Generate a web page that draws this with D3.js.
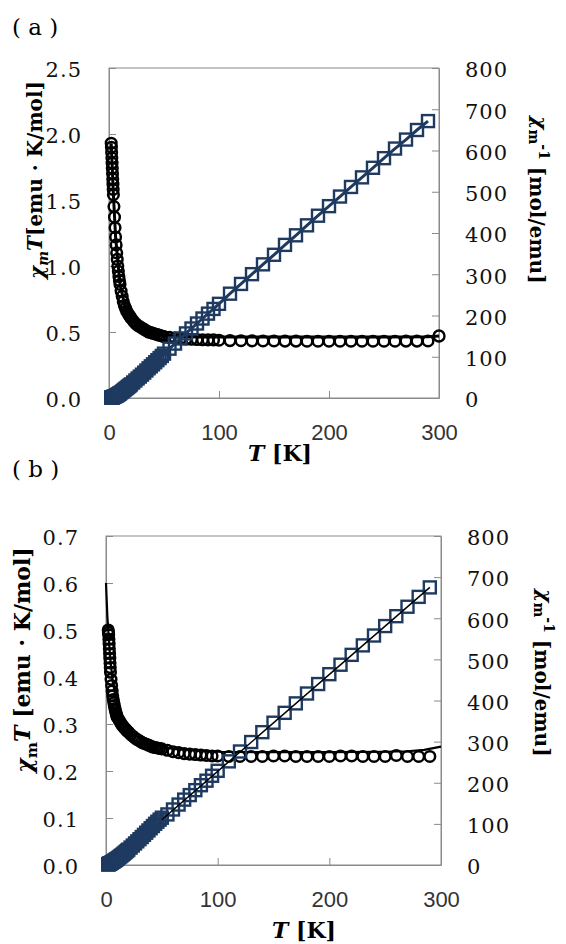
<!DOCTYPE html>
<html>
<head>
<meta charset="utf-8">
<script src="https://cdn.jsdelivr.net/npm/d3@7"></script>
<style>
  body { margin: 0; background: #fff; }
  svg { display: block; }
</style>
</head>
<body>
<div id="chart"></div>
<script>
////////////////////////////////////////////////////////////////
// Data

// temperature grid shared by circles and squares, K
let tempGrid = [2, 2.2, 2.4, 2.6, 2.8, 3, 3.2, 3.4, 3.6, 3.8,
  4, 4.5, 5, 5.5, 6, 6.5, 7, 7.5, 8, 8.5, 9, 9.5, 10,
  11, 12, 13, 14, 15, 16, 17, 18, 19, 20,
  22, 24, 26, 28, 30, 32, 34, 36, 38, 40, 42, 44, 46, 48, 50,
  55, 60, 65, 70, 75, 80, 85, 90, 95, 100,
  110, 120, 130, 140, 150, 160, 170, 180, 190, 200, 210, 220, 230, 240, 250, 260, 270, 280, 290]

// panel (a)
let chiTA = [1.93, 1.90, 1.86, 1.82, 1.78, 1.74, 1.70, 1.66, 1.62, 1.58,
  1.54, 1.45, 1.37, 1.29, 1.22, 1.16, 1.10, 1.05, 1.00, 0.96, 0.92, 0.89, 0.86,
  0.81, 0.77, 0.73, 0.70, 0.68, 0.66, 0.645, 0.63, 0.62, 0.605,
  0.585, 0.565, 0.55, 0.54, 0.53, 0.52, 0.51, 0.50, 0.495, 0.49, 0.485, 0.48, 0.475, 0.47, 0.465,
  0.46, 0.455, 0.45, 0.447, 0.445, 0.443, 0.441, 0.44, 0.44, 0.438,
  0.435, 0.434, 0.433, 0.432, 0.432, 0.431, 0.431, 0.43, 0.43, 0.43, 0.43, 0.43, 0.43, 0.43, 0.43, 0.43, 0.431, 0.431, 0.432]
let invA = [1.04, 1.16, 1.29, 1.43, 1.57, 1.72, 1.88, 2.05, 2.22, 2.41,
  2.6, 3.1, 3.65, 4.26, 4.92, 5.6, 6.36, 7.14, 8, 8.85, 9.78, 10.7, 11.6,
  13.6, 15.6, 17.8, 20, 22.1, 24.2, 26.4, 28.6, 30.6, 33.1,
  37.6, 42.5, 47.3, 51.9, 56.6, 61.5, 66.7, 72, 76.8, 81.6, 86.6, 91.7, 96.8, 102, 107.5,
  119.6, 131.9, 144.4, 156.6, 168.5, 180.6, 192.7, 204.5, 215.9, 228.3,
  252.9, 276.5, 300.2, 324, 347.2, 371.2, 394.4, 418.6, 441.9, 465.1, 488.4, 511.6, 534.9, 558.1, 581.4, 604.7, 626.5, 649.7, 671.3]
let fitTempA = [2, 3, 4, 6, 10, 15, 20, 30, 40, 50, 60, 80, 100, 150, 200, 250, 290, 300]
let fitChiTA = [1.93, 1.74, 1.54, 1.22, 0.86, 0.68, 0.6, 0.53, 0.49, 0.475, 0.466, 0.463, 0.462, 0.462, 0.462, 0.462, 0.464, 0.47]

// panel (b)
let chiTB = [0.50, 0.495, 0.49, 0.48, 0.47, 0.46, 0.45, 0.44, 0.43, 0.42,
  0.41, 0.395, 0.382, 0.37, 0.36, 0.352, 0.345, 0.339, 0.333, 0.328, 0.323, 0.319, 0.315,
  0.311, 0.307, 0.303, 0.299, 0.296, 0.293, 0.29, 0.288, 0.285, 0.283,
  0.278, 0.274, 0.27, 0.267, 0.264, 0.261, 0.259, 0.257, 0.255, 0.253, 0.251, 0.25, 0.249, 0.248, 0.247,
  0.244, 0.241, 0.239, 0.237, 0.236, 0.235, 0.234, 0.233, 0.232, 0.232,
  0.231, 0.231, 0.231, 0.231, 0.232, 0.232, 0.231, 0.231, 0.231, 0.231, 0.232, 0.232, 0.231, 0.231, 0.231, 0.233, 0.231, 0.231, 0.231]
let invB = [1.5, 1.8, 2.1, 2.4, 2.7, 3, 3.3, 3.6, 3.9, 4.2,
  4.5, 5.2, 6, 6.8, 7.6, 8.5, 9.4, 10.3, 11.2, 12.2, 13.2, 14.2, 15.2,
  17.2, 19.3, 21.4, 23.6, 25.8, 28, 30.3, 32.6, 35, 37.4,
  42.3, 47.3, 52.4, 57.5, 62.7, 68, 73.3, 78.6, 84, 89.4, 94.8, 100.2, 105.2, 110.2, 115,
  123, 135, 147, 159, 170, 182, 194, 205, 217, 229,
  252, 276, 299, 323, 346, 370, 393, 417, 440, 464, 487, 511, 534, 558, 581, 605, 628, 652, 675]
let fitTempB = [0, 1.2, 2, 3, 4, 6, 10, 20, 40, 60, 100, 150, 200, 250, 270, 285, 300]
let fitChiTB = [0.6, 0.53, 0.5, 0.465, 0.435, 0.39, 0.34, 0.29, 0.257, 0.247, 0.241, 0.24, 0.24, 0.241, 0.242, 0.245, 0.252]
let invFitTempB = [50, 290]
let invFitB = [110, 675]

// axes
let xTicks = [0, 100, 200, 300]
let leftTicksA = [0, 0.5, 1.0, 1.5, 2.0, 2.5]
let leftTicksB = [0, 0.1, 0.2, 0.3, 0.4, 0.5, 0.6, 0.7]
let rightTicks = [0, 100, 200, 300, 400, 500, 600, 700, 800]


////////////////////////////////////////////////////////////////
// Setup

let svg = d3.select("#chart").append("svg")
  .attr("width", 566)
  .attr("height", 944)

let navy = "#1f3a60"
let frameGray = "#8a8a8a"
let serif = "'DejaVu Serif', serif"

let zip = (xs, ys) => xs.map((x, i) => [x, ys[i]])

// adds a text with tspans, subscripts / superscripts via dy
function richText(sel, parts) {
  let shift = 0
  parts.forEach(p => {
    let want = p.sub ? 0.3 : (p.sup ? -0.45 : 0)
    let ts = sel.append("tspan").text(p.t)
    if (p.sub || p.sup) ts.attr("font-size", "0.7em")
    if (p.italic) ts.attr("font-style", "italic")
    let dyPx = want - shift
    if (dyPx !== 0) ts.attr("dy", dyPx + "em")
    shift = want
  })
}

function drawPanel(p) {
  let x = d3.scaleLinear().domain([0, 300]).range(p.xRange)
  let yL = d3.scaleLinear().domain([0, p.leftMax]).range(p.yRange)
  let yR = d3.scaleLinear().domain([0, 800]).range(p.yRange)

  let g = svg.append("g")

  // frame
  g.append("rect")
    .attr("x", p.xRange[0]).attr("y", p.yRange[1])
    .attr("width", p.xRange[1] - p.xRange[0])
    .attr("height", p.yRange[0] - p.yRange[1])
    .attr("fill", "none").attr("stroke", frameGray)

  // axes, ticks pointing inside
  let xAxis = d3.axisBottom(x).tickValues(xTicks).tickFormat(d3.format("d"))
    .tickSizeInner(-7).tickSizeOuter(0).tickPadding(26)
  let leftAxis = d3.axisLeft(yL).tickValues(p.leftTicks).tickFormat(d3.format(".1f"))
    .tickSizeInner(-7).tickSizeOuter(0).tickPadding(27)
  let rightAxis = d3.axisRight(yR).tickValues(rightTicks).tickFormat(d3.format("d"))
    .tickSizeInner(-7).tickSizeOuter(0).tickPadding(26)

  let gx = g.append("g").attr("transform", `translate(0,${p.yRange[0]})`).call(xAxis)
  gx.selectAll("text").attr("font-family", "'Liberation Sans', Arial, sans-serif")
    .attr("font-size", 22).attr("fill", "#333")

  let gl = g.append("g").attr("transform", `translate(${p.xRange[0]},0)`).call(leftAxis)
  let gr = g.append("g").attr("transform", `translate(${p.xRange[1]},0)`).call(rightAxis)
  ;[gl, gr].forEach(a => a.selectAll("text")
    .attr("font-family", serif).attr("font-size", 21)
    .attr("letter-spacing", 1).attr("dy", "0.42em").attr("fill", "#111"))
  ;[gx, gl, gr].forEach(a => {
    a.select(".domain").attr("stroke", frameGray)
    a.selectAll(".tick line").attr("stroke", frameGray)
  })

  // chi_m T circles (left axis)
  g.append("g").selectAll("circle")
    .data(zip(p.temp, p.chiT))
    .enter().append("circle")
    .attr("cx", d => x(d[0])).attr("cy", d => yL(d[1]))
    .attr("r", 5.3)
    .attr("fill", "none").attr("stroke", "#000").attr("stroke-width", 2.5)

  // chi_m T fit line
  let lineL = d3.line().x(d => x(d[0])).y(d => yL(d[1]))
  g.append("path")
    .attr("d", lineL(zip(p.fitTemp, p.fitChiT)))
    .attr("fill", "none").attr("stroke", "#000").attr("stroke-width", p.fitWidth)

  if (p.endMarker) {
    let last = p.fitTemp.length - 1
    g.append("circle")
      .attr("cx", x(p.fitTemp[last])).attr("cy", yL(p.fitChiT[last]))
      .attr("r", 5.5).attr("fill", "none").attr("stroke", "#000").attr("stroke-width", 2.4)
  }

  // chi_m^-1 squares (right axis)
  g.append("g").selectAll("rect")
    .data(zip(p.temp, p.inv))
    .enter().append("rect")
    .attr("x", d => x(d[0]) - 6).attr("y", d => yR(d[1]) - 6)
    .attr("width", 12).attr("height", 12)
    .attr("fill", "none").attr("stroke", navy).attr("stroke-width", 2.4)

  let lineR = d3.line().x(d => x(d[0])).y(d => yR(d[1]))
  if (p.invFitTemp) {
    g.append("path")
      .attr("d", lineR(zip(p.invFitTemp, p.invFit)))
      .attr("fill", "none").attr("stroke", "#000").attr("stroke-width", 1.5)
  } else {
    g.append("path")
      .attr("d", lineR(zip(p.temp, p.inv)))
      .attr("fill", "none").attr("stroke", navy).attr("stroke-width", 3)
  }

  // panel label
  svg.append("text")
    .attr("x", 12).attr("y", p.panelY)
    .attr("font-family", serif).attr("font-size", 23)
    .text(p.panel)

  // x axis title
  let tx = svg.append("text")
    .attr("x", p.xTitle[0]).attr("y", p.xTitle[1])
    .attr("text-anchor", "middle")
    .attr("font-family", serif).attr("font-size", 22).attr("font-weight", "bold")
  richText(tx, [{ t: "T", italic: true }, { t: " [K]" }])

  // left title
  let lt = svg.append("text")
    .attr("transform", `translate(${p.leftTitle[0]},${p.leftTitle[1]}) rotate(-90)`)
    .attr("text-anchor", "middle")
    .attr("font-family", serif).attr("font-size", p.leftTitle[2]).attr("font-weight", "bold")
  richText(lt, p.leftParts)

  // right title
  let rt = svg.append("text")
    .attr("transform", `translate(${p.rightTitle[0]},${p.rightTitle[1]}) rotate(90)`)
    .attr("text-anchor", "middle")
    .attr("font-family", serif).attr("font-size", p.rightTitle[2]).attr("font-weight", "bold")
  richText(rt, [{ t: "χ", italic: true }, { t: "m", sub: true }, { t: "-1", sup: true }, { t: " [mol/emu]" }])
}


////////////////////////////////////////////////////////////////
// Draw both panels

drawPanel({
  panel: "( a )", panelY: 35,
  xRange: [109, 439], yRange: [398, 68],
  leftMax: 2.5, leftTicks: leftTicksA,
  temp: tempGrid, chiT: chiTA, inv: invA,
  fitTemp: fitTempA, fitChiT: fitChiTA, fitWidth: 3, endMarker: true,
  xTitle: [280, 461],
  leftTitle: [44, 180, 20],
  leftParts: [{ t: "χ", italic: true }, { t: "m", sub: true, italic: true }, { t: "T", italic: true }, { t: "[emu · K/mol]" }],
  rightTitle: [533, 200, 20]
})

drawPanel({
  panel: "( b )", panelY: 477,
  xRange: [106, 441], yRange: [865, 536],
  leftMax: 0.7, leftTicks: leftTicksB,
  temp: tempGrid, chiT: chiTB, inv: invB,
  fitTemp: fitTempB, fitChiT: fitChiTB, fitWidth: 2.2, endMarker: false,
  invFitTemp: invFitTempB, invFit: invFitB,
  xTitle: [304, 938],
  leftTitle: [32, 660, 22],
  leftParts: [{ t: "χ", italic: true }, { t: "m", sub: true }, { t: "T", italic: true }, { t: " [emu · K/mol]" }],
  rightTitle: [538, 673, 20]
})
</script>
</body>
</html>
